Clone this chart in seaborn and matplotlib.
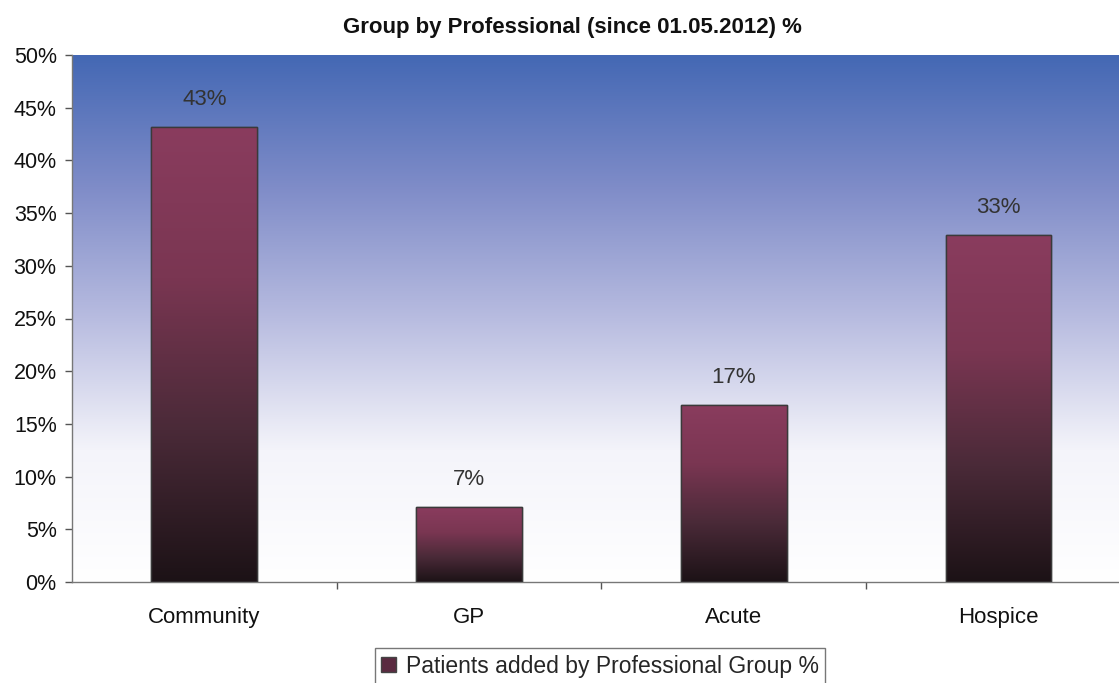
import matplotlib
matplotlib.use("Agg")
import matplotlib.pyplot as plt
import seaborn as sns
import numpy as np
import pandas as pd
from matplotlib.colors import LinearSegmentedColormap
from matplotlib.patches import Patch

categories = ["Community", "GP", "Acute", "Hospice"]
values = [43.2, 7.1, 16.8, 32.9]
labels = ["43%", "7%", "17%", "33%"]
yticks = [0, 5, 10, 15, 20, 25, 30, 35, 40, 45, 50]
title = "Group by Professional (since 01.05.2012) %"
legend_label = "Patients added by Professional Group %"

sns.set_theme(style="white")
plt.rcParams['font.family'] = ['Liberation Sans', 'DejaVu Sans']

fig = plt.figure(figsize=(11.19, 6.83), dpi=100)
W, H = 1119, 683
left, top, bottom = 72, 55, 582
right = left + 4 * 264.7  # axes extends slightly past the figure edge
ax = fig.add_axes([left / W, 1 - bottom / H, (right - left) / W, (bottom - top) / H])

df = pd.DataFrame({"cat": categories, "val": values})
sns.barplot(data=df, x="cat", y="val", ax=ax, width=0.4, color="#8B3A5E",
            edgecolor="#3a3a3a", linewidth=1.0, zorder=2)

# background gradient
bg = LinearSegmentedColormap.from_list("bg", ["#ffffff", "#f4f4fa", "#b8bce0", "#7f8cc8", "#4468b4"])
grad = np.linspace(0, 1, 256).reshape(-1, 1)
ax.imshow(grad, aspect="auto", cmap=bg, origin="lower",
          extent=[-0.5, 3.5, 0, 50], zorder=0)

# bar gradients
barcm = LinearSegmentedColormap.from_list("bar", ["#1c1216", "#4a2a38", "#7a3652", "#8a3c5e"])
for p in list(ax.patches):
    x0, y0 = p.get_x(), p.get_y()
    w, h = p.get_width(), p.get_height()
    im = ax.imshow(grad, aspect="auto", cmap=barcm, origin="lower",
                   extent=[x0, x0 + w, y0, y0 + h], zorder=2.5)
    im.set_clip_path(p)
    ax.add_patch(plt.Rectangle((x0, y0), w, h, fill=False, edgecolor="#3a3a3a",
                               linewidth=1.0, zorder=3))

ax.set_autoscale_on(False)
ax.set_xlim(-0.5, 3.5)
ax.set_ylim(0, 50)

for i, (v, lab) in enumerate(zip(values, labels)):
    ax.text(i, v + 2.6, lab, ha="center", va="center", fontsize=16, color="#333333", zorder=4)

ax.set_yticks(yticks)
ax.set_yticklabels([f"{t}%" for t in yticks], fontsize=15.5, color="#111111")
ax.set_xticks(range(4))
ax.set_xticklabels(categories, fontsize=16, color="#111111")
ax.set_xticks([0.5, 1.5, 2.5], minor=True)
ax.tick_params(axis="x", which="major", length=0, pad=18, bottom=False)
ax.tick_params(axis="x", which="minor", length=5, width=1, color="#555555", direction="out", bottom=True)
ax.tick_params(axis="y", which="major", length=5, width=1, color="#555555", direction="out", left=True, pad=6)
ax.set_xlabel("")
ax.set_ylabel("")
for s in ["top", "right"]:
    ax.spines[s].set_visible(False)
for s in ["left", "bottom"]:
    ax.spines[s].set_color("#777777")
    ax.spines[s].set_linewidth(1.0)

fig.text(572 / W, 1 - 28 / H, title, ha="center", va="center", fontsize=16, fontweight="bold", color="#111111")

handle = Patch(facecolor="#5a2a40", edgecolor="#444444")
leg = fig.legend([handle], [legend_label], loc="upper center",
                 bbox_to_anchor=(600 / W, 1 - 648 / H), frameon=True, fontsize=16.5,
                 fancybox=False, handlelength=0.65, handleheight=0.65, handletextpad=0.4,
                 borderpad=0.3, borderaxespad=0)
leg.get_frame().set_edgecolor("#555555")
leg.get_frame().set_linewidth(1.0)

fig.savefig("out.png", dpi=100)
